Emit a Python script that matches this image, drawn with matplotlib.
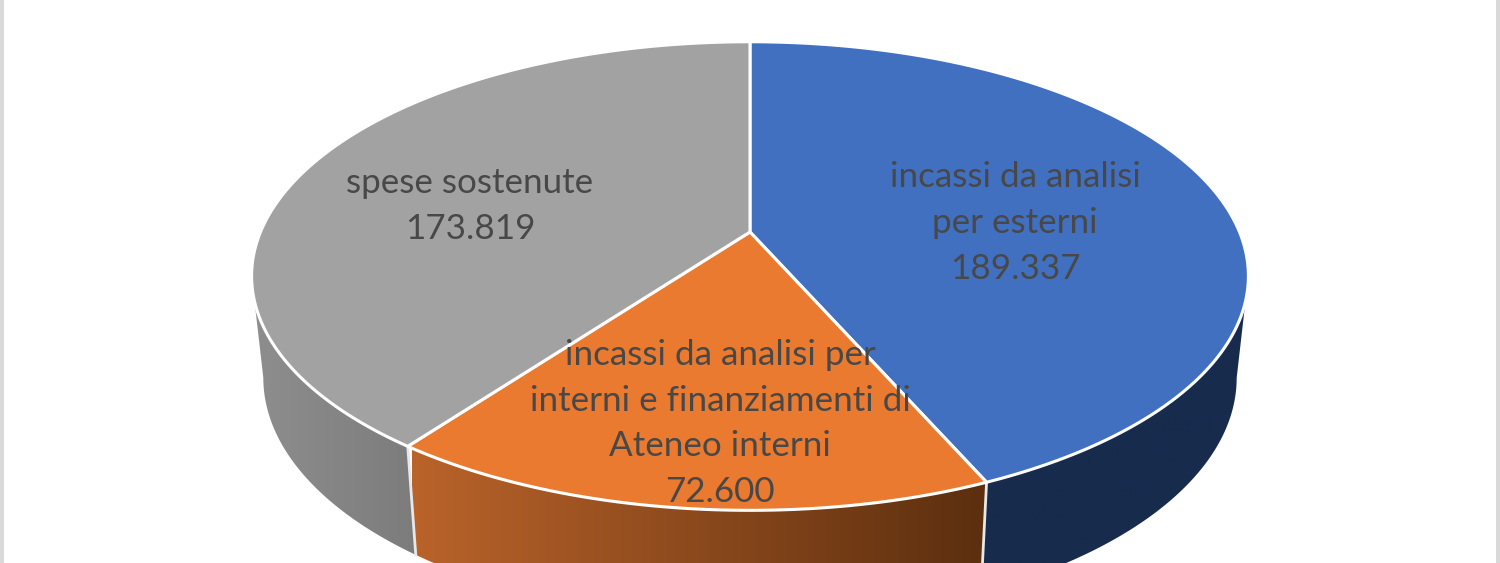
import numpy as np
import matplotlib.pyplot as plt
from matplotlib.colors import LinearSegmentedColormap
from matplotlib.patches import Polygon, Rectangle

# Chart data
labels = ["incassi da analisi\nper esterni",
          "incassi da analisi per\ninterni e finanziamenti di\nAteneo interni",
          "spese sostenute"]
values = [189337, 72600, 173819]
top_colors = ["#4170c0", "#e97a2f", "#a2a2a2"]
side_colors = [("#172b4d", "#172b4d"), ("#ba632a", "#5c2f0f"), ("#8e8e8e", "#7c7c7c")]

# Perspective of the disc, in pixels of the picture
WIDTH, HEIGHT = 1500, 563
PERSP = 0.188
CX = 750
TOP_CY, TOP_A, TOP_B = 232, 489.5, 226
BASE_CY, BASE_A, BASE_B = 332, 478, 235
label_xy = [(1015, 223), (720, 423.5), (470, 206)]


def project(theta, radius, a, b, cy):
    # theta is clockwise from 12 o'clock, radius 0..1
    u = radius * np.sin(theta)
    v = radius * np.cos(theta)
    den = 1 + PERSP * v
    return np.column_stack([CX + a * u / den, cy - b * v / den])


def top_pts(theta, radius=1.0):
    return project(theta, radius, TOP_A, TOP_B, TOP_CY)


def base_pts(theta):
    return project(theta, 1.0, BASE_A, BASE_B, BASE_CY)


fig = plt.figure(figsize=(WIDTH / 100, HEIGHT / 100), dpi=100)
ax = fig.add_axes([0, 0, 1, 1])
ax.set_xlim(0, WIDTH)
ax.set_ylim(HEIGHT, 0)
ax.axis("off")

# Grey bands on both sides of the picture
ax.add_patch(Rectangle((0, 0), 4, HEIGHT, color="#d9d9d9", lw=0))
ax.add_patch(Rectangle((WIDTH - 4, 0), 4, HEIGHT, color="#d9d9d9", lw=0))

fractions = np.array(values) / sum(values)
edges = np.concatenate([[0], np.cumsum(fractions)]) * 2 * np.pi

# The rim is visible between the two widest points of the ellipse
rim_start = np.pi / 2 + np.arcsin(PERSP)
rim_end = 3 * np.pi / 2 - np.arcsin(PERSP)

# Side walls first, then the top faces above them
for i in range(3):
    start = max(edges[i], rim_start)
    end = min(edges[i + 1], rim_end)
    theta = np.linspace(start, end, 200)
    wall = np.vstack([top_pts(theta), base_pts(theta[::-1])])
    poly = Polygon(wall, closed=True, fc="none", ec="none")
    ax.add_patch(poly)
    cmap = LinearSegmentedColormap.from_list("wall", side_colors[i])
    x0, x1 = wall[:, 0].min(), wall[:, 0].max()
    if i == 1:
        x0, x1 = 412, 985
    img = ax.imshow(np.linspace(0, 1, 256)[None, :], cmap=cmap, aspect="auto",
                    extent=(x0, x1, HEIGHT, 0), zorder=1)
    img.set_clip_path(poly)

ax.set_xlim(0, WIDTH)
ax.set_ylim(HEIGHT, 0)

# Light seams between the wall pieces
for angle in edges[1:3]:
    t = np.array([angle])
    seam = np.vstack([top_pts(t), base_pts(t)])
    ax.plot(seam[:, 0], seam[:, 1], color="#e8e8e8", lw=2, zorder=2)

for i in range(3):
    theta = np.linspace(edges[i], edges[i + 1], 300)
    face = np.vstack([[[CX, TOP_CY]], top_pts(theta)])
    ax.add_patch(Polygon(face, closed=True, fc=top_colors[i], ec="white",
                         lw=2.2, joinstyle="round", zorder=3))

# Data labels
for i in range(3):
    amount = f"{values[i]:,}".replace(",", ".")
    ax.text(label_xy[i][0], label_xy[i][1], labels[i] + "\n" + amount,
            ha="center", va="center", family="Lato", fontsize=25.2,
            color="#484848", linespacing=1.52, zorder=4)

fig.savefig("out.png", dpi=100)
